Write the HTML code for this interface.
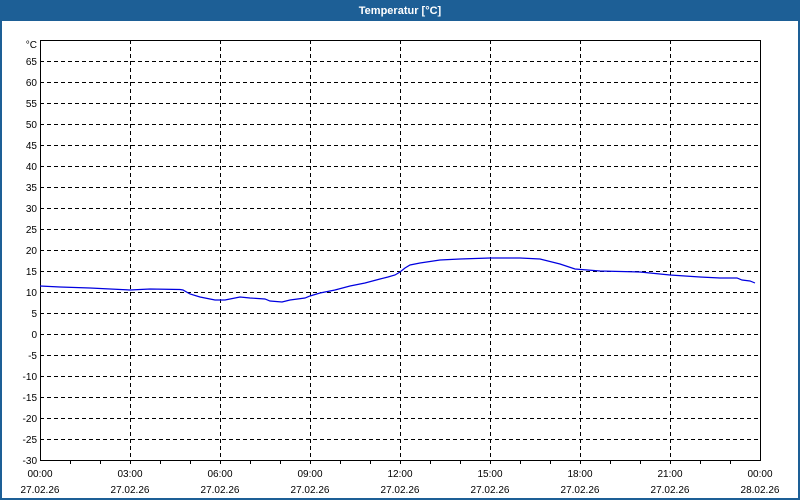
<!DOCTYPE html>
<html><head><style>
html,body{margin:0;padding:0;width:800px;height:500px;overflow:hidden;background:#fff}
</style></head><body>
<svg width="800" height="500" xmlns="http://www.w3.org/2000/svg" font-family="Liberation Sans, sans-serif" font-size="11">
<rect x="0" y="0" width="800" height="500" fill="#1d5f96"/>
<rect x="2" y="21" width="796" height="477" fill="#fff"/>
<text x="400" y="14" fill="#fff" font-weight="bold" text-anchor="middle" font-size="11">Temperatur [°C]</text>
<g stroke="#000" stroke-dasharray="4,3" stroke-width="1">
<line x1="40" y1="61.5" x2="760" y2="61.5"/><line x1="40" y1="82.5" x2="760" y2="82.5"/><line x1="40" y1="103.5" x2="760" y2="103.5"/><line x1="40" y1="124.5" x2="760" y2="124.5"/><line x1="40" y1="145.5" x2="760" y2="145.5"/><line x1="40" y1="166.5" x2="760" y2="166.5"/><line x1="40" y1="187.5" x2="760" y2="187.5"/><line x1="40" y1="208.5" x2="760" y2="208.5"/><line x1="40" y1="229.5" x2="760" y2="229.5"/><line x1="40" y1="250.5" x2="760" y2="250.5"/><line x1="40" y1="271.5" x2="760" y2="271.5"/><line x1="40" y1="292.5" x2="760" y2="292.5"/><line x1="40" y1="313.5" x2="760" y2="313.5"/><line x1="40" y1="334.5" x2="760" y2="334.5"/><line x1="40" y1="355.5" x2="760" y2="355.5"/><line x1="40" y1="376.5" x2="760" y2="376.5"/><line x1="40" y1="397.5" x2="760" y2="397.5"/><line x1="40" y1="418.5" x2="760" y2="418.5"/><line x1="40" y1="439.5" x2="760" y2="439.5"/>
<line x1="130.5" y1="40" x2="130.5" y2="460"/><line x1="220.5" y1="40" x2="220.5" y2="460"/><line x1="310.5" y1="40" x2="310.5" y2="460"/><line x1="400.5" y1="40" x2="400.5" y2="460"/><line x1="490.5" y1="40" x2="490.5" y2="460"/><line x1="580.5" y1="40" x2="580.5" y2="460"/><line x1="670.5" y1="40" x2="670.5" y2="460"/>
</g>
<rect x="40.5" y="40.5" width="720" height="420" fill="none" stroke="#000"/>
<g stroke="#000">
<line x1="70.5" y1="460" x2="70.5" y2="464"/><line x1="100.5" y1="460" x2="100.5" y2="464"/><line x1="130.5" y1="460" x2="130.5" y2="464"/><line x1="160.5" y1="460" x2="160.5" y2="464"/><line x1="190.5" y1="460" x2="190.5" y2="464"/><line x1="220.5" y1="460" x2="220.5" y2="464"/><line x1="250.5" y1="460" x2="250.5" y2="464"/><line x1="280.5" y1="460" x2="280.5" y2="464"/><line x1="310.5" y1="460" x2="310.5" y2="464"/><line x1="340.5" y1="460" x2="340.5" y2="464"/><line x1="370.5" y1="460" x2="370.5" y2="464"/><line x1="400.5" y1="460" x2="400.5" y2="464"/><line x1="430.5" y1="460" x2="430.5" y2="464"/><line x1="460.5" y1="460" x2="460.5" y2="464"/><line x1="490.5" y1="460" x2="490.5" y2="464"/><line x1="520.5" y1="460" x2="520.5" y2="464"/><line x1="550.5" y1="460" x2="550.5" y2="464"/><line x1="580.5" y1="460" x2="580.5" y2="464"/><line x1="610.5" y1="460" x2="610.5" y2="464"/><line x1="640.5" y1="460" x2="640.5" y2="464"/><line x1="670.5" y1="460" x2="670.5" y2="464"/><line x1="700.5" y1="460" x2="700.5" y2="464"/><line x1="730.5" y1="460" x2="730.5" y2="464"/>
</g>
<g fill="#000" text-anchor="end" font-size="10">
<text x="37" y="48">°C</text>
<text x="37" y="65">65</text><text x="37" y="86">60</text><text x="37" y="107">55</text><text x="37" y="128">50</text><text x="37" y="149">45</text><text x="37" y="170">40</text><text x="37" y="191">35</text><text x="37" y="212">30</text><text x="37" y="233">25</text><text x="37" y="254">20</text><text x="37" y="275">15</text><text x="37" y="296">10</text><text x="37" y="317">5</text><text x="37" y="338">0</text><text x="37" y="359">-5</text><text x="37" y="380">-10</text><text x="37" y="401">-15</text><text x="37" y="422">-20</text><text x="37" y="443">-25</text><text x="37" y="464">-30</text>
</g>
<g fill="#000" text-anchor="middle" font-size="10">
<text x="40" y="477">00:00</text><text x="130" y="477">03:00</text><text x="220" y="477">06:00</text><text x="310" y="477">09:00</text><text x="400" y="477">12:00</text><text x="490" y="477">15:00</text><text x="580" y="477">18:00</text><text x="670" y="477">21:00</text><text x="760" y="477">00:00</text>
<text x="40" y="493">27.02.26</text><text x="130" y="493">27.02.26</text><text x="220" y="493">27.02.26</text><text x="310" y="493">27.02.26</text><text x="400" y="493">27.02.26</text><text x="490" y="493">27.02.26</text><text x="580" y="493">27.02.26</text><text x="670" y="493">27.02.26</text><text x="760" y="493">28.02.26</text>
</g>
<polyline fill="none" stroke="#0000e0" stroke-width="1.2" points="40,286 60,287 90,288 130,290 150,289 180,289.5 183,290 190,294 200,297 215,300 225,300 240,297 250,298 265,299 270,301 282,302 290,300 305,298 310,296 320,293 335,290 350,286 365,283 380,279 388,277 395,275 400,272 405,268 410,265 420,263 440,260 460,259 490,258 520,258 540,259 560,264 575,269 600,271 640,272 670,275 700,277 720,278 737,278 742,280 750,281 755,283"/>
</svg>
</body></html>
